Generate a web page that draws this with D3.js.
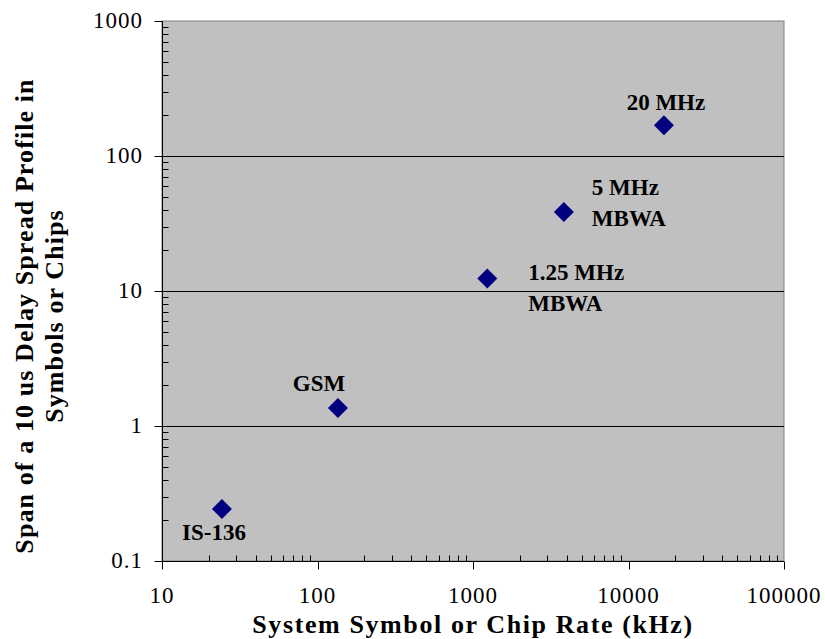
<!DOCTYPE html>
<html>
<head>
<meta charset="utf-8">
<script src="https://cdn.jsdelivr.net/npm/d3@7"></script>
<style>
  body { margin: 0; background: #fff; }
  svg { display: block; }
</style>
</head>
<body>
<div id="chart"></div>
<script>
// data
const systems = ['IS-136', 'GSM', '1.25 MHz MBWA', '5 MHz MBWA', '20 MHz'];
const rateKHz = [24.3, 135.4, 1236, 3840, 16900];
const spanChips = [0.243, 1.36, 12.4, 38.4, 169];
const xTicks = [10, 100, 1000, 10000, 100000];
const yTicks = [0.1, 1, 10, 100, 1000];
const labelLines = [['IS-136'], ['GSM'], ['1.25 MHz', 'MBWA'], ['5 MHz', 'MBWA'], ['20 MHz']];
const labelOffset = [[-8, 31], [-19, -17], [41, 2], [28, -17], [2, -15]]; // dx, dy to first baseline
const labelAnchor = ['middle', 'middle', 'start', 'start', 'middle'];

const width = 825, height = 639;
const margin = { left: 162, right: 41, top: 21, bottom: 78 };
const serif = '"Liberation Serif", "Times New Roman", serif';

const svg = d3.select('#chart').append('svg')
    .attr('width', width)
    .attr('height', height);

const x = d3.scaleLog().domain([10, 100000]).range([margin.left, width - margin.right]);
const y = d3.scaleLog().domain([0.1, 1000]).range([height - margin.bottom, margin.top]);

// plot area
svg.append('rect')
    .attr('x', x.range()[0]).attr('y', y.range()[1])
    .attr('width', x.range()[1] - x.range()[0])
    .attr('height', y.range()[0] - y.range()[1])
    .attr('fill', '#c0c0c0')
    .attr('stroke', '#808080')
    .attr('stroke-width', 1);

// gridlines
svg.append('g').selectAll('line')
    .data(yTicks.slice(1, -1))
    .join('line')
    .attr('x1', x.range()[0]).attr('x2', x.range()[1])
    .attr('y1', d => Math.round(y(d)) + 0.5).attr('y2', d => Math.round(y(d)) + 0.5)
    .attr('stroke', '#000').attr('stroke-width', 1);

// minor ticks (inside)
const minorX = [];
for (let d = 10; d < 100000; d *= 10) for (let k = 2; k <= 9; k++) minorX.push(d * k);
const minorY = [];
for (let d = 0.1; d < 999; d *= 10) for (let k = 2; k <= 9; k++) minorY.push(+(d * k).toPrecision(3));

const axisG = svg.append('g').attr('stroke', '#000').attr('stroke-width', 1);
const x0 = x.range()[0] + 0.5, yb = y.range()[0] + 0.5;

axisG.selectAll('.mx').data(minorX).join('line')
    .attr('x1', d => Math.round(x(d)) + 0.5).attr('x2', d => Math.round(x(d)) + 0.5)
    .attr('y1', yb).attr('y2', yb - 6);
axisG.selectAll('.my').data(minorY).join('line')
    .attr('y1', d => Math.round(y(d)) + 0.5).attr('y2', d => Math.round(y(d)) + 0.5)
    .attr('x1', x0).attr('x2', x0 + 6);

// major ticks (outside)
axisG.selectAll('.Mx').data(xTicks).join('line')
    .attr('x1', d => Math.round(x(d)) + 0.5).attr('x2', d => Math.round(x(d)) + 0.5)
    .attr('y1', yb).attr('y2', yb + 8);
axisG.selectAll('.My').data(yTicks).join('line')
    .attr('y1', d => Math.round(y(d)) + 0.5).attr('y2', d => Math.round(y(d)) + 0.5)
    .attr('x1', x0).attr('x2', x0 - 8);

// axis lines
axisG.append('line').attr('x1', x0).attr('x2', x0).attr('y1', y.range()[1]).attr('y2', yb);
axisG.append('line').attr('x1', x.range()[0]).attr('x2', x.range()[1]).attr('y1', yb).attr('y2', yb);

// tick labels
svg.append('g').selectAll('text').data(xTicks).join('text')
    .attr('x', d => x(d)).attr('y', 603)
    .attr('text-anchor', 'middle')
    .attr('font-family', serif).attr('font-size', 23).attr('letter-spacing', 1)
    .text(d => d);
svg.append('g').selectAll('text').data(yTicks).join('text')
    .attr('x', 143).attr('y', d => y(d) + 7)
    .attr('text-anchor', 'end')
    .attr('font-family', serif).attr('font-size', 23).attr('letter-spacing', 1)
    .text(d => d);

// axis titles
svg.append('text')
    .attr('x', 473).attr('y', 633)
    .attr('text-anchor', 'middle')
    .attr('font-family', serif).attr('font-size', 26).attr('font-weight', 'bold')
    .attr('letter-spacing', 1.6)
    .text('System Symbol or Chip Rate (kHz)');
const yTitle = svg.append('text')
    .attr('transform', 'translate(0,316) rotate(-90)')
    .attr('text-anchor', 'middle')
    .attr('font-family', serif).attr('font-size', 26).attr('font-weight', 'bold')
    .attr('letter-spacing', 1.1);
yTitle.append('tspan').attr('x', 0).attr('y', 33).text('Span of a 10 us Delay Spread Profile in');
yTitle.append('tspan').attr('x', 0).attr('y', 63).text('Symbols or Chips');

// points
const points = systems.map((s, i) => ({ name: s, x: rateKHz[i], y: spanChips[i], i }));
svg.append('g').selectAll('path').data(points).join('path')
    .attr('transform', d => `translate(${x(d.x)},${y(d.y)}) rotate(45)`)
    .attr('d', d3.symbol(d3.symbolSquare, 200))
    .attr('fill', '#000080');

// point labels
const labels = svg.append('g')
    .attr('font-family', serif).attr('font-size', 23).attr('font-weight', 'bold');
points.forEach(d => {
    const t = labels.append('text')
        .attr('text-anchor', labelAnchor[d.i]);
    labelLines[d.i].forEach((line, j) => {
        t.append('tspan')
            .attr('x', x(d.x) + labelOffset[d.i][0])
            .attr('y', y(d.y) + labelOffset[d.i][1] + j * 31)
            .text(line);
    });
});
</script>
</body>
</html>
